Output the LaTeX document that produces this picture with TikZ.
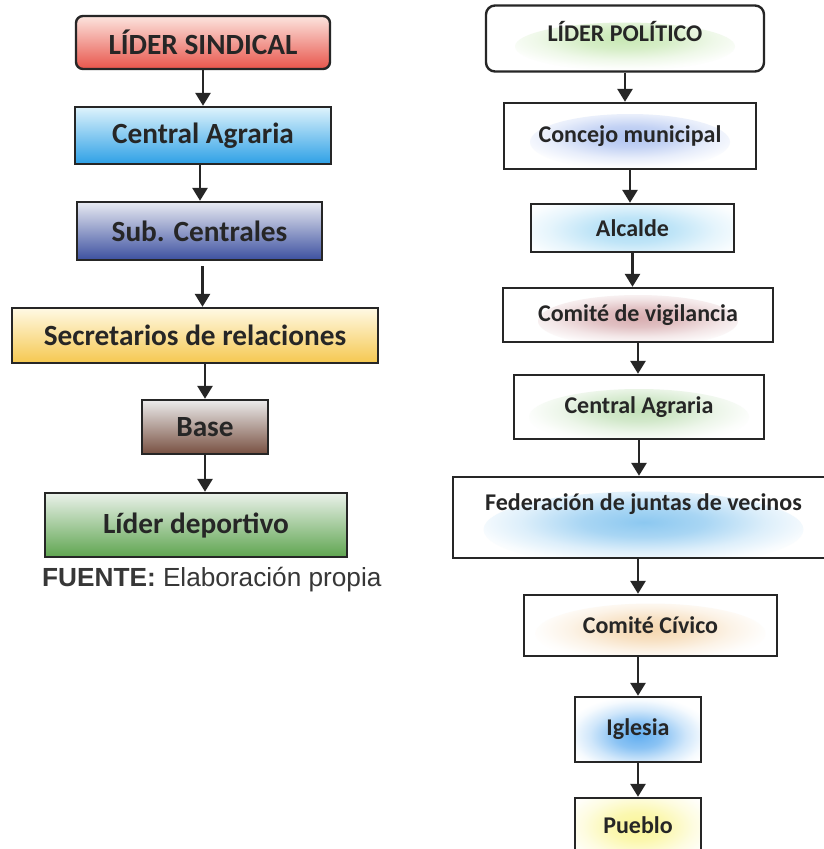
\documentclass[tikz,border=0pt]{standalone}
\usepackage{fontspec}
\setmainfont{Carlito}
\newfontfamily\arialfont{Liberation Sans}
\usetikzlibrary{arrows.meta,calc}
\definecolor{ink}{RGB}{38,38,38}
\definecolor{srcgray}{RGB}{55,55,55}
\definecolor{lsT}{RGB}{252,228,222}\definecolor{lsB}{RGB}{232,85,75}
\definecolor{caT}{RGB}{222,243,252}\definecolor{caB}{RGB}{45,160,230}
\definecolor{scT}{RGB}{232,234,242}\definecolor{scB}{RGB}{60,80,160}
\definecolor{srT}{RGB}{255,249,228}\definecolor{srB}{RGB}{245,200,80}
\definecolor{baT}{RGB}{236,236,236}\definecolor{baB}{RGB}{120,80,65}
\definecolor{ldT}{RGB}{234,241,234}\definecolor{ldB}{RGB}{95,165,80}
\definecolor{gLP}{RGB}{200,232,180}
\definecolor{gCM}{RGB}{175,195,240}
\definecolor{gAL}{RGB}{170,220,245}
\definecolor{gCV}{RGB}{215,172,175}
\definecolor{gCA}{RGB}{195,225,185}
\definecolor{gFJ}{RGB}{140,200,240}
\definecolor{gCC}{RGB}{245,215,175}
\definecolor{gIG}{RGB}{100,175,240}
\definecolor{gPU}{RGB}{250,245,150}
\colorlet{glowcolor}{white}
\pgfdeclareradialshading[glowcolor]{softglow}{\pgfpoint{0bp}{0bp}}{%
  color(0bp)=(glowcolor); color(8bp)=(glowcolor!75!white);
  color(16bp)=(glowcolor!30!white); color(22bp)=(glowcolor!6!white);
  color(25bp)=(white); color(50bp)=(white)}
\begin{document}
\begin{tikzpicture}[x=1pt,y=-1pt,
  lbox/.style={draw=ink, line width=2.4pt, text=ink, inner sep=0pt,
    font=\bfseries\fontsize{29.3}{31}\selectfont},
  rbox/.style={draw=ink, line width=2.4pt, fill=white, text=ink, inner sep=0pt,
    font=\bfseries\fontsize{24}{26}\selectfont},
  glow/.style n args={4}{path picture={\colorlet{glowcolor}{#1}%
    \shade[shading=softglow]
    ([yshift=#4]path picture bounding box.center) ellipse [x radius=#2, y radius=#3];}},
  arr/.style={draw=ink, line width=2.8pt, -{Triangle[width=15pt,length=13pt]}}
]
\useasboundingbox (0,0) rectangle (824,849);
\clip (0,0) rectangle (824,849);
\fill[white] (0,0) rectangle (824,849);

% ---------- left column ----------
\node[lbox, rounded corners=7pt, top color=lsT, bottom color=lsB,
  minimum width=254pt, minimum height=53pt] (ls) at (203,42.5) {LÍDER SINDICAL};
\node[lbox, top color=caT, bottom color=caB,
  minimum width=256pt, minimum height=57pt] (ca) at (203,135.5) {Central Agraria};
\node[lbox, top color=scT, bottom color=scB,
  minimum width=245pt, minimum height=58pt] (sc) at (199.5,231) {Sub. Centrales};
\node[lbox, top color=srT, bottom color=srB,
  minimum width=366pt, minimum height=55pt] (sr) at (195,335.5) {Secretarios de relaciones};
\node[lbox, top color=baT, bottom color=baB,
  minimum width=126pt, minimum height=54pt] (ba) at (205,427) {Base};
\node[lbox, top color=ldT, bottom color=ldB,
  minimum width=302pt, minimum height=64pt] (ld) at (196,525) {Líder deportivo};
\node[anchor=base west, inner sep=0pt, text=srcgray,
  font=\arialfont\fontsize{26.2}{28}\selectfont] (src) at (42,586)
  {\textbf{FUENTE:} Elaboración propia};

\draw[arr] (ls.south) -- (ls.south |- ca.north);
\draw[arr] ([xshift=-3pt]ca.south) -- ([xshift=-3pt]ca.south |- sc.north);
\draw[arr, shorten <=5pt] ([xshift=3pt]sc.south) -- ([xshift=3pt]sc.south |- sr.north);
\draw[arr] (sr.south -| ba.north) -- (ba.north);
\draw[arr] (ba.south) -- (ba.south |- ld.north);

% ---------- right column ----------
\node[rbox, rounded corners=9pt, glow={gLP}{110pt}{24pt}{-8pt}, text height=17pt, text depth=12pt,
  minimum width=278pt, minimum height=66pt] (lp) at (625,38.5) {LÍDER POLÍTICO};
\node[rbox, glow={gCM}{100pt}{28pt}{-6pt},
  minimum width=252pt, minimum height=66pt] (cm) at (630,136) {Concejo municipal};
\node[rbox, glow={gAL}{130pt}{40pt}{-2pt},
  minimum width=203pt, minimum height=48pt] (al) at (632.5,228) {Alcalde};
\node[rbox, glow={gCV}{100pt}{26pt}{-6pt},
  minimum width=270pt, minimum height=54pt] (cv) at (638,315) {Comité de vigilancia};
\node[rbox, glow={gCA}{110pt}{28pt}{-10pt},
  minimum width=250pt, minimum height=64pt] (ca2) at (639,407) {Central Agraria};
\node[rbox, glow={gFJ}{160pt}{38pt}{-12pt}, text height=16pt, text depth=31pt,
  minimum width=381pt, minimum height=81pt] (fj) at (643.5,517.5) {Federación de juntas de vecinos};
\node[rbox, glow={gCC}{115pt}{30pt}{-8pt},
  minimum width=253pt, minimum height=61pt] (cc) at (650.5,625.5) {Comité Cívico};
\node[rbox, glow={gIG}{75pt}{40pt}{-6pt},
  minimum width=126pt, minimum height=65pt] (ig) at (638,729.5) {Iglesia};
\node[rbox, glow={gPU}{85pt}{46pt}{4pt}, text height=16pt, text depth=10pt,
  minimum width=126pt, minimum height=65pt] (pu) at (638,830.5) {Pueblo};

\draw[arr] (lp.south) -- (lp.south |- cm.north);
\draw[arr] (cm.south) -- (cm.south |- al.north);
\draw[arr] (al.south) -- (al.south |- cv.north);
\draw[arr] (cv.south) -- (cv.south |- ca2.north);
\draw[arr] (ca2.south) -- (ca2.south |- fj.north);
\draw[arr] (fj.south -| ig.north) -- (cc.north -| ig.north);
\draw[arr] (cc.south -| ig.north) -- (ig.north);
\draw[arr] (ig.south) -- (pu.north);
\end{tikzpicture}
\end{document}
